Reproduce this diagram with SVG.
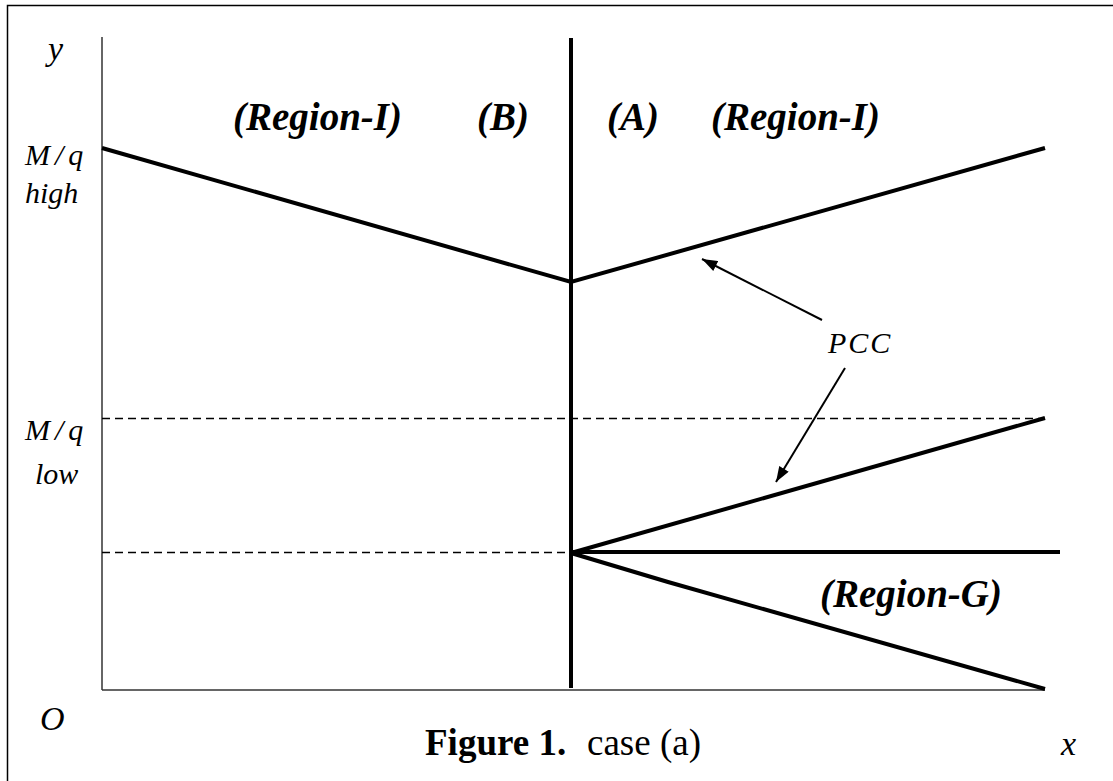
<svg xmlns="http://www.w3.org/2000/svg" width="1113" height="781" viewBox="0 0 1113 781">
  <style>
    .lbl { font-family: "Liberation Serif", "Times New Roman", serif; fill: #000; }
    .it { font-style: italic; }
    .bi { font-style: italic; font-weight: bold; font-size: 39px; }
    .thick { stroke: #000; stroke-width: 4; fill: none; }
    .axis { stroke: #333; stroke-width: 1.5; fill: none; }
    .dash { stroke: #000; stroke-width: 1.3; stroke-dasharray: 8 5; fill: none; }
    .arrow { stroke: #000; stroke-width: 2; fill: none; }
  </style>
  <defs>
    <marker id="ahb" viewBox="0 0 14 10" refX="14" refY="5" markerWidth="16" markerHeight="11" markerUnits="userSpaceOnUse" orient="auto">
      <path d="M0,0 L14,5 L0,10 z" fill="#000"/>
    </marker>
  </defs>
  <rect width="1113" height="781" fill="#fff"/>
  <path d="M7.5,781 V5.5 H1113" fill="none" stroke="#000" stroke-width="1.5"/>

  <g id="axes">
    <line class="axis" x1="102" y1="37" x2="102" y2="690"/>
    <line class="axis" x1="102" y1="690" x2="1045" y2="690"/>
  </g>

  <g id="connectors">
    <line class="dash" x1="102" y1="418.5" x2="1045" y2="418.5"/>
    <line class="dash" x1="102" y1="552.5" x2="571" y2="552.5"/>
    <line class="thick" x1="571" y1="38" x2="571" y2="688" stroke-width="5"/>
    <polyline class="thick" points="102,148 571,282 1045,148"/>
    <line class="thick" x1="571" y1="553" x2="1045" y2="418"/>
    <line class="thick" x1="571" y1="552" x2="1060" y2="552" stroke-width="5"/>
    <polyline class="thick" points="571,553 668,582 1045,689"/>
    <line class="arrow" x1="822" y1="320" x2="702" y2="259" marker-end="url(#ahb)"/>
    <line class="arrow" x1="845" y1="368" x2="776" y2="482" marker-end="url(#ahb)"/>
  </g>

  <g id="axis-labels">
    <text class="lbl it" x="48" y="60" font-size="34">y</text>
    <text class="lbl it" x="25" y="165" font-size="30" letter-spacing="5">M/q</text>
    <text class="lbl it" x="25" y="203" font-size="30">high</text>
    <text class="lbl it" x="25" y="440" font-size="30" letter-spacing="5">M/q</text>
    <text class="lbl it" x="35" y="484" font-size="30">low</text>
    <text class="lbl it" x="40" y="730" font-size="34">O</text>
    <text class="lbl it" x="1061" y="755" font-size="34">x</text>
  </g>

  <g id="region-I-left"><text class="lbl bi" x="233" y="130">(Region-I)</text></g>
  <g id="region-B"><text class="lbl bi" x="477" y="130">(B)</text></g>
  <g id="region-A"><text class="lbl bi" x="607" y="130">(A)</text></g>
  <g id="region-I-right"><text class="lbl bi" x="711" y="130">(Region-I)</text></g>
  <g id="region-G"><text class="lbl bi" x="820" y="607">(Region-G)</text></g>
  <g id="pcc"><text class="lbl it" x="828" y="353" font-size="30" letter-spacing="2">PCC</text></g>

  <g id="caption">
    <text class="lbl" x="425" y="755" font-size="37"><tspan font-weight="bold">Figure 1.</tspan><tspan x="587">case (a)</tspan></text>
  </g>
</svg>
